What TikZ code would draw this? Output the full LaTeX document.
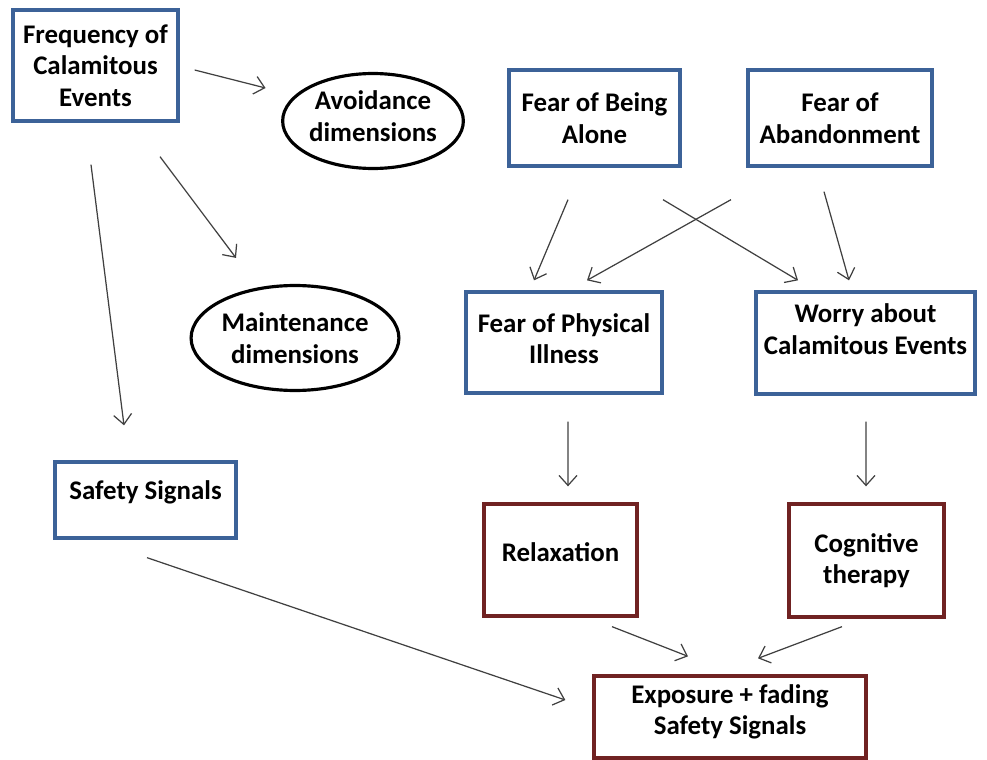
\documentclass[tikz,border=0pt]{standalone}
\usepackage{fontspec}
\setmainfont{Carlito}
\usetikzlibrary{arrows.meta, calc, shapes.geometric}
\definecolor{boxblue}{RGB}{60,98,152}
\definecolor{boxred}{RGB}{112,34,34}

\begin{document}
\begin{tikzpicture}[
    x=0.02cm, y=-0.02cm,
    font=\fontsize{15.3}{18}\selectfont\bfseries,
    >={Straight Barb[length=2mm,width=3.6mm]},
    blue_box/.style={draw=boxblue, line width=1.9pt, align=center, inner sep=0pt},
    red_box/.style={draw=boxred, line width=1.9pt, align=center, inner sep=0pt},
    dim_node/.style={ellipse, draw=black, line width=1.8pt, align=center, inner sep=0pt},
    arrow/.style={->, line width=0.7pt, draw=black!75}
]
\useasboundingbox (0,0) rectangle (987,760);

% Left column
\node[blue_box, minimum width=3.3cm, minimum height=2.22cm] (freq) at (95.5,65.5) {Frequency of\\Calamitous\\Events};
\node[dim_node, minimum width=3.5cm, minimum height=1.9cm, text depth=0.2cm] (avoid) at (373,121) {Avoidance\\dimensions};
\node[dim_node, minimum width=3.9cm, minimum height=2.1cm] (maint) at (295,338) {Maintenance\\dimensions};
\node[blue_box, minimum width=3.62cm, minimum height=1.52cm, text depth=0.38cm] (safety) at (145.5,500) {Safety Signals};

% Fears
\node[blue_box, minimum width=3.42cm, minimum height=1.92cm] (alone) at (594.5,118) {Fear of Being\\Alone};
\node[blue_box, minimum width=3.68cm, minimum height=1.92cm] (abandon) at (840,118) {Fear of\\Abandonment};
\node[blue_box, minimum width=3.92cm, minimum height=2.02cm, text depth=0.16cm] (illness) at (564,342.5) {Fear of Physical\\Illness};
\node[blue_box, minimum width=4.38cm, minimum height=2.04cm, text depth=0.56cm] (worry) at (865.5,343) {Worry about\\Calamitous Events};

% Treatment
\node[red_box, minimum width=3.06cm, minimum height=2.24cm, text depth=0.32cm] (relax) at (560.5,560) {Relaxation};
\node[red_box, minimum width=3.1cm, minimum height=2.26cm] (cog) at (866.5,560.5) {Cognitive\\therapy};
\node[red_box, minimum width=5.44cm, minimum height=1.64cm, text depth=0.3cm] (expo) at (730,717) {Exposure + fading\\Safety Signals};

% Arrows from frequency
\draw[arrow] ($(freq.east)+(15,4.5)$) -- ($(avoid.west)+(-15.5,-33)$);
\draw[arrow] ($(freq.south)+(64.5,34)$) -- ($(maint.north)+(-59,-26)$);
\draw[arrow] ($(freq.south)+(-4.5,42)$) -- ($(safety.north)+(-21.5,-35)$);

% Fears crossing
\draw[arrow] ($(alone.south)+(-26.5,32)$) -- ($(illness.north)+(-30,-10)$);
\draw[arrow] ($(alone.south)+(68.5,32)$) -- ($(worry.north)+(-67.5,-10)$);
\draw[arrow] ($(abandon.south)+(-109,32)$) -- ($(illness.north)+(23,-10)$);
\draw[arrow] ($(abandon.south)+(-16,24)$) -- ($(worry.north)+(-16.5,-10)$);

% Down to treatment
\draw[arrow] ($(illness.south)+(4,27)$) -- ($(relax.north)+(7.5,-16)$);
\draw[arrow] ($(worry.south)+(0.5,26)$) -- ($(cog.north)+(-0.5,-16)$);

% Into exposure
\draw[arrow] ($(relax.south)+(51.5,9)$) -- ($(expo.north)+(-42,-18)$);
\draw[arrow] ($(cog.south)+(-24.5,8)$) -- ($(expo.north)+(28,-16)$);
\draw[arrow] ($(safety.south)+(1.5,18)$) -- ($(expo.west)+(-27,-17)$);

\end{tikzpicture}
\end{document}
